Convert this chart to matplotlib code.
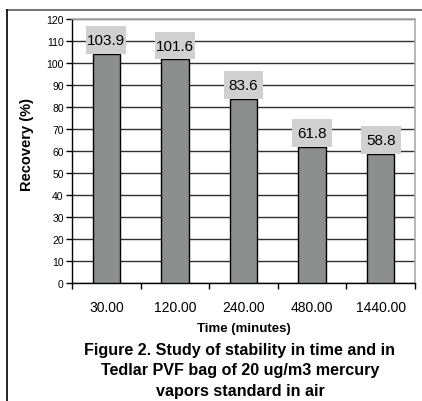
import matplotlib.pyplot as plt
from matplotlib.lines import Line2D
from matplotlib.patches import Rectangle

times = ['30.00', '120.00', '240.00', '480.00', '1440.00']
recovery = [103.9, 101.6, 83.6, 61.8, 58.8]
y_ticks = list(range(0, 121, 10))

W, H = 422, 402
plt.rcParams['font.family'] = ['Liberation Sans', 'DejaVu Sans']

fig = plt.figure(figsize=(W / 100, H / 100), dpi=100)
fig.patch.set_facecolor('white')

# plot area in pixels: left 72, right 415, top 20, bottom 284
ax = fig.add_axes([72 / W, (H - 284) / H, (415 - 72) / W, (284 - 20) / H])

x = list(range(len(times)))
ax.bar(x, recovery, width=0.4, color='#8c8f8e', edgecolor='black', linewidth=1, zorder=3)

# value labels in grey boxes sitting on top of each bar
box_w, box_h = 0.58, 12.7
for xi, v in zip(x, recovery):
    ax.add_patch(Rectangle((xi - box_w / 2, v), box_w, box_h, facecolor='#d0d0d0',
                           edgecolor='none', zorder=4, clip_on=False))
    ax.text(xi, v + box_h / 2, '%.1f' % v, ha='center', va='center', fontsize=11, zorder=5)

ax.set_xlim(-0.5, len(times) - 0.5)
ax.set_ylim(0, 120)
ax.set_yticks(y_ticks)
ax.tick_params(axis='y', labelsize=7.5, length=4, direction='out', width=1, pad=2)
ax.yaxis.grid(True, color='#303030', linewidth=1)
ax.set_axisbelow(True)

# category labels sit in the middle, tick marks on the boundaries
ax.set_xticks(x)
ax.set_xticklabels(times, fontsize=10)
ax.tick_params(axis='x', length=0, pad=12)
ax.set_xticks([i + 0.5 for i in range(-1, len(times))], minor=True)
ax.tick_params(axis='x', which='minor', length=4, width=1, direction='out')

for s in ['top', 'right']:
    ax.spines[s].set_color('#aaaaaa')
    ax.spines[s].set_linewidth(1.2)
for s in ['left', 'bottom']:
    ax.spines[s].set_color('black')
    ax.spines[s].set_linewidth(1)

ax.set_xlabel('Time (minutes)', fontsize=9.5, fontweight='bold', labelpad=6)
fig.text(27 / W, 1 - 145 / H, 'Recovery (%)', rotation=90, fontsize=10.5,
         fontweight='bold', ha='center', va='center')

fig.text(240 / W, 1 - 371 / H,
         'Figure 2. Study of stability in time and in\nTedlar PVF bag of 20 ug/m3 mercury\nvapors standard in air',
         ha='center', va='center', fontsize=11.6, fontweight='bold', linespacing=1.45)

# frame lines around the figure
fig.add_artist(Line2D([7 / W, 1], [1 - 11 / H, 1 - 11 / H], color='#777777', linewidth=1.5))
fig.add_artist(Line2D([7 / W, 7 / W], [0, 1 - 11 / H], color='black', linewidth=1.2))

fig.savefig('out.png', dpi=100)
